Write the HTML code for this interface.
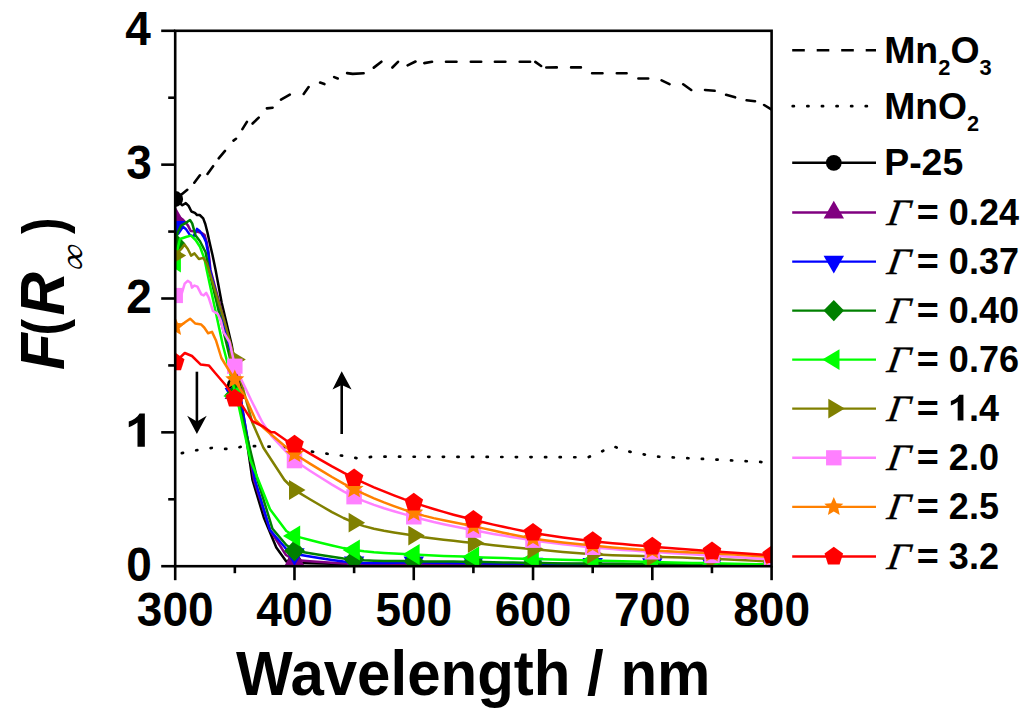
<!DOCTYPE html>
<html><head><meta charset="utf-8"><style>
html,body{margin:0;padding:0;background:#fff;}
svg{display:block;}
.b{font-family:"Liberation Sans",sans-serif;font-weight:bold;fill:#000;}
</style></head><body>
<svg width="1024" height="719" viewBox="0 0 1024 719">
<rect x="0" y="0" width="1024" height="719" fill="#fff"/>
<g>
<defs><clipPath id="pc"><rect x="175.2" y="30.8" width="596.4000000000001" height="535.4000000000001"/></clipPath></defs>
<g clip-path="url(#pc)">
<path d="M176.6,198.5 L187.3,189.8 M194.3,182.7 L199.9,175.3 M207.5,174.0 L213.1,166.2 M218.7,158.3 L225.0,150.9 M233.5,140.6 L236.0,138.8 M242.4,129.1 L246.9,121.9 M252.6,123.5 L258.7,117.6 M266.9,108.4 L272.6,107.7 M281.0,99.6 L289.8,94.6 M303.7,94.0 L308.6,87.1 M320.1,82.6 L324.4,84.1 M334.2,77.1 L337.7,78.5 M347.1,73.1 L352.7,73.9 L363.6,73.2 M373.8,67.6 L381.4,61.7 M392.4,67.5 L398.0,61.8 M407.6,65.3 L415.5,61.5 M424.3,63.1 L432.0,61.8 M446.0,61.7 L456.5,61.7 M470.8,61.7 L481.2,61.7 M494.9,61.7 L505.4,61.7 M519.7,61.7 L530.1,61.7 M535.3,61.9 L541.1,66.0 M546.3,67.5 L556.8,67.4 M571.1,67.4 L580.9,67.4 M592.1,73.2 L602.5,73.2 M616.8,73.2 L626.6,73.2 M638.4,78.5 L648.2,78.5 M661.6,80.4 L669.5,84.2 M683.2,84.3 L691.2,90.0 M705.0,90.0 L714.6,90.8 M726.1,94.8 L735.1,97.3 M746.6,100.3 L755.0,101.3 M764.1,105.0 L771.3,109.4" fill="none" stroke="#000" stroke-width="2.6" stroke-linecap="round" stroke-linejoin="round"/>
<polyline points="175.0,454.6 192.6,450.8 213.0,447.8 230.7,449.3 245.3,445.8 263.0,446.4 277.6,447.0 298.0,449.3 315.7,452.3 339.0,455.2 356.8,458.1 374.4,456.7 403.7,456.7 588.0,457.3 601.0,451.8 613.0,446.2 627.0,451.2 642.6,454.2 657.8,456.7 700.0,458.8 757.6,461.8 772.0,462.7" fill="none" stroke="#000" stroke-width="2.7" stroke-dasharray="1.2 13.4" stroke-dashoffset="-7" stroke-linecap="round"/>
<polyline points="175.0,199.0 182.3,205.2 185.8,203.1 188.6,205.9 191.4,211.5 194.9,212.9 197.0,215.0 199.7,215.0 203.2,218.4 205.3,224.0 207.4,232.3 209.5,242.0 212.5,255.0 215.6,270.0 221.7,302.8 231.7,345.0 240.8,400.0 252.5,480.0 263.8,517.5 276.3,547.6 286.3,561.4 294.5,563.0 301.0,563.1 309.9,563.3 320.6,563.5 332.0,563.7 343.5,563.9 354.1,564.0 364.0,564.1 374.0,564.2 384.0,564.2 393.9,564.2 403.9,564.3 413.8,564.3 423.7,564.3 433.7,564.4 443.6,564.4 453.5,564.5 463.5,564.5 473.4,564.5 483.3,564.5 493.3,564.5 503.2,564.5 513.1,564.5 523.1,564.5 533.0,564.5 542.9,564.5 552.9,564.5 562.9,564.5 572.8,564.5 582.8,564.5 592.7,564.5 602.6,564.5 612.6,564.5 622.5,564.5 632.4,564.5 642.4,564.5 652.3,564.5 662.2,564.5 672.2,564.5 682.1,564.5 692.1,564.5 702.1,564.5 712.0,564.5 722.6,564.5 734.1,564.5 745.5,564.5 756.2,564.5 765.1,564.5 771.6,564.5" fill="none" stroke="#000000" stroke-width="2.5" stroke-linejoin="round"/>
<circle cx="175.2" cy="199" r="7.9" fill="#000000"/>
<circle cx="234.8" cy="385" r="7.9" fill="#000000"/>
<circle cx="294.5" cy="563.0" r="7.9" fill="#000000"/>
<circle cx="354.1" cy="564.0" r="7.9" fill="#000000"/>
<circle cx="413.8" cy="564.3" r="7.9" fill="#000000"/>
<circle cx="473.4" cy="564.5" r="7.9" fill="#000000"/>
<circle cx="533.0" cy="564.5" r="7.9" fill="#000000"/>
<circle cx="592.7" cy="564.5" r="7.9" fill="#000000"/>
<circle cx="652.3" cy="564.5" r="7.9" fill="#000000"/>
<circle cx="712.0" cy="564.5" r="7.9" fill="#000000"/>
<circle cx="771.6" cy="564.5" r="7.9" fill="#000000"/>
<polyline points="175.0,214.0 183.0,219.8 187.9,225.4 190.7,231.0 197.0,231.6 201.8,233.0 204.6,235.1 206.7,242.0 208.5,252.0 210.5,270.0 223.5,318.0 233.0,355.0 241.0,400.0 254.0,480.0 270.0,530.0 286.0,555.0 294.5,560.1 301.0,560.5 309.9,561.2 320.6,561.9 332.0,562.7 343.5,563.4 354.1,563.8 364.0,564.0 374.0,564.1 384.0,564.0 393.9,563.9 403.9,563.8 413.8,563.8 423.7,563.8 433.7,563.9 443.6,564.0 453.5,564.1 463.5,564.1 473.4,564.2 483.3,564.2 493.3,564.3 503.2,564.3 513.1,564.3 523.1,564.4 533.0,564.4 542.9,564.4 552.9,564.4 562.9,564.5 572.8,564.5 582.8,564.5 592.7,564.5 602.6,564.5 612.6,564.5 622.5,564.5 632.4,564.5 642.4,564.5 652.3,564.5 662.2,564.5 672.2,564.5 682.1,564.5 692.1,564.5 702.1,564.5 712.0,564.5 722.6,564.5 734.1,564.5 745.5,564.5 756.2,564.5 765.1,564.5 771.6,564.5" fill="none" stroke="#800080" stroke-width="2.5" stroke-linejoin="round"/>
<polygon points="175.2,206.2 185.4,223.9 165.0,223.9" fill="#800080"/>
<polygon points="234.8,381.2 245.0,398.9 224.6,398.9" fill="#800080"/>
<polygon points="294.5,548.3 304.7,566.0 284.3,566.0" fill="#800080"/>
<polygon points="354.1,552.0 364.3,569.7 343.9,569.7" fill="#800080"/>
<polygon points="413.8,552.0 424.0,569.7 403.6,569.7" fill="#800080"/>
<polygon points="473.4,552.4 483.6,570.1 463.2,570.1" fill="#800080"/>
<polygon points="533.0,552.6 543.2,570.3 522.8,570.3" fill="#800080"/>
<polygon points="592.7,552.7 602.9,570.4 582.5,570.4" fill="#800080"/>
<polygon points="652.3,552.7 662.5,570.4 642.1,570.4" fill="#800080"/>
<polygon points="712.0,552.7 722.2,570.4 701.8,570.4" fill="#800080"/>
<polygon points="771.6,552.7 781.8,570.4 761.4,570.4" fill="#800080"/>
<polyline points="175.0,227.0 178.2,233.7 183.0,226.8 185.8,228.9 190.0,235.1 193.5,236.5 197.0,228.9 199.7,230.9 203.9,237.2 206.0,242.0 208.5,255.0 210.0,270.0 223.0,320.0 233.5,365.0 240.7,400.0 255.0,480.0 270.0,530.0 286.3,549.0 294.5,554.1 301.0,555.1 309.9,556.6 320.6,558.3 332.0,560.0 343.5,561.5 354.1,562.5 364.0,563.0 374.0,563.1 384.0,563.0 393.9,562.8 403.9,562.6 413.8,562.5 423.7,562.6 433.7,562.7 443.6,562.8 453.5,563.0 463.5,563.1 473.4,563.2 483.3,563.3 493.3,563.4 503.2,563.4 513.1,563.5 523.1,563.5 533.0,563.6 542.9,563.7 552.9,563.7 562.9,563.8 572.8,563.9 582.8,563.9 592.7,564.0 602.6,564.0 612.6,564.1 622.5,564.1 632.4,564.1 642.4,564.2 652.3,564.2 662.2,564.2 672.2,564.3 682.1,564.3 692.1,564.3 702.1,564.4 712.0,564.4 722.6,564.4 734.1,564.4 745.5,564.5 756.2,564.5 765.1,564.5 771.6,564.5" fill="none" stroke="#0000ff" stroke-width="2.5" stroke-linejoin="round"/>
<polygon points="175.2,238.8 185.4,221.1 165.0,221.1" fill="#0000ff"/>
<polygon points="234.8,405.8 245.0,388.1 224.6,388.1" fill="#0000ff"/>
<polygon points="294.5,565.9 304.7,548.2 284.3,548.2" fill="#0000ff"/>
<polygon points="354.1,574.3 364.3,556.6 343.9,556.6" fill="#0000ff"/>
<polygon points="413.8,574.3 424.0,556.6 403.6,556.6" fill="#0000ff"/>
<polygon points="473.4,575.0 483.6,557.3 463.2,557.3" fill="#0000ff"/>
<polygon points="533.0,575.4 543.2,557.7 522.8,557.7" fill="#0000ff"/>
<polygon points="592.7,575.8 602.9,558.1 582.5,558.1" fill="#0000ff"/>
<polygon points="652.3,576.0 662.5,558.3 642.1,558.3" fill="#0000ff"/>
<polygon points="712.0,576.2 722.2,558.5 701.8,558.5" fill="#0000ff"/>
<polygon points="771.6,576.3 781.8,558.6 761.4,558.6" fill="#0000ff"/>
<polyline points="175.0,243.4 177.8,232.3 181.1,225.6 186.7,222.3 190.0,220.0 192.2,223.4 195.6,235.6 200.0,241.2 205.6,252.3 208.9,270.0 222.0,325.0 234.0,375.0 240.5,410.0 257.5,480.0 272.5,528.8 286.3,545.0 294.5,550.7 301.0,551.8 309.9,553.3 320.6,555.1 332.0,556.8 343.5,558.4 354.1,559.6 364.0,560.3 374.0,560.7 384.0,560.9 393.9,561.0 403.9,561.1 413.8,561.2 423.7,561.4 433.7,561.5 443.6,561.5 453.5,561.6 463.5,561.7 473.4,561.8 483.3,562.0 493.3,562.2 503.2,562.4 513.1,562.6 523.1,562.8 533.0,563.0 542.9,563.1 552.9,563.3 562.9,563.4 572.8,563.4 582.8,563.5 592.7,563.6 602.6,563.7 612.6,563.8 622.5,563.8 632.4,563.9 642.4,563.9 652.3,564.0 662.2,564.0 672.2,564.1 682.1,564.1 692.1,564.1 702.1,564.2 712.0,564.2 722.6,564.2 734.1,564.3 745.5,564.4 756.2,564.4 765.1,564.5 771.6,564.5" fill="none" stroke="#008000" stroke-width="2.5" stroke-linejoin="round"/>
<polygon points="175.2,232.7 185.4,243.4 175.2,254.1 164.9,243.4" fill="#008000"/>
<polygon points="234.8,384.3 245.1,395.0 234.8,405.7 224.6,395.0" fill="#008000"/>
<polygon points="294.5,540.0 304.8,550.7 294.5,561.4 284.2,550.7" fill="#008000"/>
<polygon points="354.1,548.9 364.4,559.6 354.1,570.3 343.9,559.6" fill="#008000"/>
<polygon points="413.8,550.5 424.1,561.2 413.8,571.9 403.6,561.2" fill="#008000"/>
<polygon points="473.4,551.1 483.6,561.8 473.4,572.5 463.1,561.8" fill="#008000"/>
<polygon points="533.0,552.3 543.2,563.0 533.0,573.7 522.8,563.0" fill="#008000"/>
<polygon points="592.7,552.9 603.0,563.6 592.7,574.3 582.5,563.6" fill="#008000"/>
<polygon points="652.3,553.3 662.5,564.0 652.3,574.7 642.0,564.0" fill="#008000"/>
<polygon points="712.0,553.5 722.2,564.2 712.0,574.9 701.8,564.2" fill="#008000"/>
<polygon points="771.6,553.8 781.9,564.5 771.6,575.2 761.4,564.5" fill="#008000"/>
<polyline points="175.0,262.0 177.8,247.8 180.0,239.0 186.7,236.7 191.1,235.6 195.6,240.0 200.0,246.7 204.5,259.0 206.7,270.0 222.8,345.0 238.8,406.6 250.4,460.0 257.5,478.0 270.0,509.3 286.3,531.0 294.5,536.0 301.0,537.6 309.9,540.0 320.6,542.7 332.0,545.5 343.5,548.1 354.1,550.0 364.0,551.3 374.0,552.3 384.0,553.0 393.9,553.5 403.9,554.0 413.8,554.5 423.7,555.0 433.7,555.5 443.6,555.9 453.5,556.3 463.5,556.6 473.4,557.0 483.3,557.4 493.3,557.7 503.2,558.1 513.1,558.4 523.1,558.7 533.0,559.0 542.9,559.3 552.9,559.5 562.9,559.8 572.8,560.0 582.8,560.3 592.7,560.5 602.6,560.8 612.6,561.0 622.5,561.3 632.4,561.5 642.4,561.8 652.3,562.0 662.2,562.2 672.2,562.5 682.1,562.7 692.1,562.9 702.1,563.1 712.0,563.3 722.6,563.5 734.1,563.8 745.5,564.0 756.2,564.2 765.1,564.4 771.6,564.5" fill="none" stroke="#00ff00" stroke-width="2.5" stroke-linejoin="round"/>
<polygon points="163.7,262.0 180.9,251.7 180.9,272.4" fill="#00ff00"/>
<polygon points="223.3,396.0 240.6,385.6 240.6,406.4" fill="#00ff00"/>
<polygon points="283.0,536.0 300.2,525.6 300.2,546.4" fill="#00ff00"/>
<polygon points="342.6,550.0 359.9,539.6 359.9,560.4" fill="#00ff00"/>
<polygon points="402.3,554.5 419.6,544.1 419.6,564.9" fill="#00ff00"/>
<polygon points="461.9,557.0 479.1,546.6 479.1,567.4" fill="#00ff00"/>
<polygon points="521.5,559.0 538.8,548.6 538.8,569.4" fill="#00ff00"/>
<polygon points="581.2,560.5 598.5,550.1 598.5,570.9" fill="#00ff00"/>
<polygon points="640.8,562.0 658.0,551.6 658.0,572.4" fill="#00ff00"/>
<polygon points="700.5,563.3 717.8,552.9 717.8,573.6" fill="#00ff00"/>
<polygon points="760.1,564.5 777.4,554.1 777.4,574.9" fill="#00ff00"/>
<polyline points="175.0,255.6 182.2,247.8 184.5,244.5 187.8,249.0 191.1,255.6 194.5,253.4 198.9,259.0 203.4,257.9 206.7,263.4 208.9,270.0 224.0,320.0 235.0,359.5 252.2,422.2 263.4,447.8 284.5,480.0 294.5,490.0 301.0,493.8 309.9,499.2 320.6,505.5 332.0,512.1 343.5,518.0 354.1,522.7 364.0,526.1 374.0,528.7 384.0,530.7 393.9,532.4 403.9,534.0 413.8,535.6 423.7,537.2 433.7,538.5 443.6,539.7 453.5,540.8 463.5,541.9 473.4,543.0 483.3,544.1 493.3,545.2 503.2,546.2 513.1,547.3 523.1,548.2 533.0,549.2 542.9,550.1 552.9,551.1 562.9,551.9 572.8,552.8 582.8,553.5 592.7,554.2 602.6,554.7 612.6,555.2 622.5,555.5 632.4,555.8 642.4,556.1 652.3,556.5 662.2,556.9 672.2,557.3 682.1,557.6 692.1,558.0 702.1,558.4 712.0,558.8 722.6,559.3 734.1,559.8 745.5,560.3 756.2,560.8 765.1,561.2 771.6,561.5" fill="none" stroke="#808000" stroke-width="2.5" stroke-linejoin="round"/>
<polygon points="186.2,255.6 169.7,245.7 169.7,265.5" fill="#808000"/>
<polygon points="245.8,359.5 229.3,349.6 229.3,369.4" fill="#808000"/>
<polygon points="305.5,490.0 289.0,480.1 289.0,499.9" fill="#808000"/>
<polygon points="365.1,522.7 348.6,512.8 348.6,532.6" fill="#808000"/>
<polygon points="424.8,535.6 408.3,525.7 408.3,545.5" fill="#808000"/>
<polygon points="484.4,543.0 467.9,533.1 467.9,552.9" fill="#808000"/>
<polygon points="544.0,549.2 527.5,539.3 527.5,559.1" fill="#808000"/>
<polygon points="603.7,554.2 587.2,544.3 587.2,564.1" fill="#808000"/>
<polygon points="663.3,556.5 646.8,546.6 646.8,566.4" fill="#808000"/>
<polygon points="723.0,558.8 706.5,548.9 706.5,568.7" fill="#808000"/>
<polygon points="782.6,561.5 766.1,551.6 766.1,571.4" fill="#808000"/>
<polyline points="175.0,295.5 181.8,293.4 184.7,283.7 187.7,280.8 190.6,282.7 192.0,287.6 194.5,285.6 197.4,286.6 201.3,294.4 203.7,295.4 206.2,292.9 208.6,297.3 213.0,311.0 217.8,313.9 220.8,320.7 223.7,332.4 229.5,342.0 235.0,366.2 251.1,400.0 262.3,422.2 271.2,435.6 285.6,451.2 294.5,460.7 301.0,464.8 309.9,470.7 320.6,477.5 332.0,484.6 343.5,491.3 354.1,496.8 364.0,501.2 374.0,504.9 384.0,508.3 393.9,511.3 403.9,514.1 413.8,516.9 423.7,519.5 433.7,522.0 443.6,524.2 453.5,526.3 463.5,528.2 473.4,530.2 483.3,532.1 493.3,533.9 503.2,535.6 513.1,537.3 523.1,538.8 533.0,540.3 542.9,541.7 552.9,543.0 562.9,544.2 572.8,545.3 582.8,546.4 592.7,547.4 602.6,548.3 612.6,549.1 622.5,549.9 632.4,550.6 642.4,551.2 652.3,551.9 662.2,552.5 672.2,553.2 682.1,553.7 692.1,554.3 702.1,554.9 712.0,555.5 722.6,556.2 734.1,557.0 745.5,557.7 756.2,558.4 765.1,559.1 771.6,559.5" fill="none" stroke="#ff80ff" stroke-width="2.5" stroke-linejoin="round"/>
<rect x="167.45" y="287.9" width="15.5" height="15.2" fill="#ff80ff"/>
<rect x="227.05" y="358.59999999999997" width="15.5" height="15.2" fill="#ff80ff"/>
<rect x="286.75" y="453.09999999999997" width="15.5" height="15.2" fill="#ff80ff"/>
<rect x="346.35" y="489.2" width="15.5" height="15.2" fill="#ff80ff"/>
<rect x="406.05" y="509.29999999999995" width="15.5" height="15.2" fill="#ff80ff"/>
<rect x="465.65" y="522.6" width="15.5" height="15.2" fill="#ff80ff"/>
<rect x="525.25" y="532.6999999999999" width="15.5" height="15.2" fill="#ff80ff"/>
<rect x="584.95" y="539.8" width="15.5" height="15.2" fill="#ff80ff"/>
<rect x="644.55" y="544.3" width="15.5" height="15.2" fill="#ff80ff"/>
<rect x="704.25" y="547.9" width="15.5" height="15.2" fill="#ff80ff"/>
<rect x="763.85" y="551.9" width="15.5" height="15.2" fill="#ff80ff"/>
<polyline points="175.0,326.8 177.0,324.6 180.8,325.1 184.7,322.6 190.1,318.7 195.4,323.6 201.3,324.6 204.2,327.5 208.1,333.3 212.0,331.9 215.9,340.2 221.4,358.0 234.5,379.5 246.7,400.0 255.6,420.0 263.4,427.8 271.2,434.5 285.6,446.7 294.5,454.0 301.0,458.0 309.9,463.6 320.6,470.1 332.0,477.0 343.5,483.6 354.1,489.2 364.0,493.9 374.0,498.3 384.0,502.4 393.9,506.1 403.9,509.6 413.8,512.8 423.7,515.6 433.7,518.1 443.6,520.2 453.5,522.2 463.5,524.2 473.4,526.2 483.3,528.4 493.3,530.5 503.2,532.7 513.1,534.8 523.1,536.7 533.0,538.4 542.9,539.9 552.9,541.2 562.9,542.4 572.8,543.5 582.8,544.5 592.7,545.5 602.6,546.5 612.6,547.4 622.5,548.3 632.4,549.1 642.4,549.8 652.3,550.5 662.2,551.1 672.2,551.6 682.1,552.0 692.1,552.4 702.1,552.8 712.0,553.3 722.6,553.9 734.1,554.6 745.5,555.3 756.2,556.0 765.1,556.6 771.6,557.0" fill="none" stroke="#ff8000" stroke-width="2.5" stroke-linejoin="round"/>
<polygon points="175.2,316.8 177.9,323.1 184.7,323.7 179.6,328.2 181.1,334.9 175.2,331.4 169.3,334.9 170.8,328.2 165.7,323.7 172.5,323.1" fill="#ff8000"/>
<polygon points="234.8,369.5 237.5,375.8 244.3,376.4 239.2,380.9 240.7,387.6 234.8,384.1 228.9,387.6 230.4,380.9 225.3,376.4 232.1,375.8" fill="#ff8000"/>
<polygon points="294.5,444.0 297.2,450.3 304.0,450.9 298.9,455.4 300.4,462.1 294.5,458.6 288.6,462.1 290.1,455.4 285.0,450.9 291.8,450.3" fill="#ff8000"/>
<polygon points="354.1,479.2 356.8,485.5 363.6,486.1 358.5,490.6 360.0,497.3 354.1,493.8 348.2,497.3 349.7,490.6 344.6,486.1 351.4,485.5" fill="#ff8000"/>
<polygon points="413.8,502.8 416.5,509.1 423.3,509.7 418.2,514.2 419.7,520.9 413.8,517.4 407.9,520.9 409.4,514.2 404.3,509.7 411.1,509.1" fill="#ff8000"/>
<polygon points="473.4,516.2 476.1,522.5 482.9,523.1 477.8,527.6 479.3,534.3 473.4,530.8 467.5,534.3 469.0,527.6 463.9,523.1 470.7,522.5" fill="#ff8000"/>
<polygon points="533.0,528.4 535.7,534.7 542.5,535.3 537.4,539.8 538.9,546.5 533.0,543.0 527.1,546.5 528.6,539.8 523.5,535.3 530.3,534.7" fill="#ff8000"/>
<polygon points="592.7,535.5 595.4,541.8 602.2,542.4 597.1,546.9 598.6,553.6 592.7,550.1 586.8,553.6 588.3,546.9 583.2,542.4 590.0,541.8" fill="#ff8000"/>
<polygon points="652.3,540.5 655.0,546.8 661.8,547.4 656.7,551.9 658.2,558.6 652.3,555.1 646.4,558.6 647.9,551.9 642.8,547.4 649.6,546.8" fill="#ff8000"/>
<polygon points="712.0,543.3 714.7,549.6 721.5,550.2 716.4,554.7 717.9,561.4 712.0,557.9 706.1,561.4 707.6,554.7 702.5,550.2 709.3,549.6" fill="#ff8000"/>
<polygon points="771.6,547.0 774.3,553.3 781.1,553.9 776.0,558.4 777.5,565.1 771.6,561.6 765.7,565.1 767.2,558.4 762.1,553.9 768.9,553.3" fill="#ff8000"/>
<polyline points="175.0,362.3 184.8,353.0 192.0,356.0 200.5,364.4 208.8,365.4 215.0,372.7 225.5,385.0 235.0,398.5 242.2,405.6 252.2,421.1 263.4,426.7 271.2,432.3 274.5,432.3 285.6,440.0 294.5,444.5 301.0,448.3 309.9,453.6 320.6,459.8 332.0,466.4 343.5,472.7 354.1,478.2 364.0,482.9 374.0,487.3 384.0,491.4 393.9,495.3 403.9,499.1 413.8,502.6 423.7,505.9 433.7,509.0 443.6,511.9 453.5,514.7 463.5,517.3 473.4,519.8 483.3,522.3 493.3,524.6 503.2,526.8 513.1,528.9 523.1,530.9 533.0,532.7 542.9,534.4 552.9,535.9 562.9,537.4 572.8,538.7 582.8,539.9 592.7,541.1 602.6,542.2 612.6,543.2 622.5,544.1 632.4,544.9 642.4,545.8 652.3,546.6 662.2,547.4 672.2,548.3 682.1,549.0 692.1,549.8 702.1,550.6 712.0,551.3 722.6,552.0 734.1,552.8 745.5,553.5 756.2,554.2 765.1,554.8 771.6,555.2" fill="none" stroke="#ff0000" stroke-width="2.5" stroke-linejoin="round"/>
<polygon points="175.2,352.5 184.5,359.3 181.0,370.2 169.4,370.2 165.9,359.3" fill="#ff0000"/>
<polygon points="234.8,388.7 244.1,395.5 240.6,406.4 229.0,406.4 225.5,395.5" fill="#ff0000"/>
<polygon points="294.5,434.7 303.8,441.5 300.3,452.4 288.7,452.4 285.2,441.5" fill="#ff0000"/>
<polygon points="354.1,468.4 363.4,475.2 359.9,486.1 348.3,486.1 344.8,475.2" fill="#ff0000"/>
<polygon points="413.8,492.8 423.1,499.6 419.6,510.5 408.0,510.5 404.5,499.6" fill="#ff0000"/>
<polygon points="473.4,510.0 482.7,516.8 479.2,527.7 467.6,527.7 464.1,516.8" fill="#ff0000"/>
<polygon points="533.0,522.9 542.3,529.7 538.8,540.6 527.2,540.6 523.7,529.7" fill="#ff0000"/>
<polygon points="592.7,531.3 602.0,538.1 598.5,549.0 586.9,549.0 583.4,538.1" fill="#ff0000"/>
<polygon points="652.3,536.8 661.6,543.6 658.1,554.5 646.5,554.5 643.0,543.6" fill="#ff0000"/>
<polygon points="712.0,541.5 721.3,548.3 717.8,559.2 706.2,559.2 702.7,548.3" fill="#ff0000"/>
<polygon points="771.6,545.4 780.9,552.2 777.4,563.1 765.8,563.1 762.3,552.2" fill="#ff0000"/>
</g>
<line x1="196.9" y1="371.7" x2="196.9" y2="425" stroke="#000" stroke-width="2.6"/>
<polygon points="196.9,434 187.2,415.7 196.9,421.5 206.7,415.7" fill="#000"/>
<line x1="341.7" y1="434" x2="341.7" y2="380" stroke="#000" stroke-width="2.6"/>
<polygon points="341.7,371.3 351.6,389.5 341.7,385 332.5,389.5" fill="#000"/>
<rect x="175.2" y="30.8" width="596.4000000000001" height="535.4000000000001" stroke="#000" stroke-width="2.6" fill="none"/>
<line x1="161.2" y1="566.2" x2="175.2" y2="566.2" stroke="#000" stroke-width="2.6" fill="none"/>
<line x1="168.2" y1="499.27500000000003" x2="175.2" y2="499.27500000000003" stroke="#000" stroke-width="2.6" fill="none"/>
<line x1="161.2" y1="432.35" x2="175.2" y2="432.35" stroke="#000" stroke-width="2.6" fill="none"/>
<line x1="168.2" y1="365.425" x2="175.2" y2="365.425" stroke="#000" stroke-width="2.6" fill="none"/>
<line x1="161.2" y1="298.5" x2="175.2" y2="298.5" stroke="#000" stroke-width="2.6" fill="none"/>
<line x1="168.2" y1="231.575" x2="175.2" y2="231.575" stroke="#000" stroke-width="2.6" fill="none"/>
<line x1="161.2" y1="164.64999999999998" x2="175.2" y2="164.64999999999998" stroke="#000" stroke-width="2.6" fill="none"/>
<line x1="168.2" y1="97.72499999999997" x2="175.2" y2="97.72499999999997" stroke="#000" stroke-width="2.6" fill="none"/>
<line x1="161.2" y1="30.799999999999955" x2="175.2" y2="30.799999999999955" stroke="#000" stroke-width="2.6" fill="none"/>
<line x1="175.2" y1="566.2" x2="175.2" y2="580.2" stroke="#000" stroke-width="2.6" fill="none"/>
<line x1="234.84" y1="566.2" x2="234.84" y2="573.2" stroke="#000" stroke-width="2.6" fill="none"/>
<line x1="294.48" y1="566.2" x2="294.48" y2="580.2" stroke="#000" stroke-width="2.6" fill="none"/>
<line x1="354.12" y1="566.2" x2="354.12" y2="573.2" stroke="#000" stroke-width="2.6" fill="none"/>
<line x1="413.76" y1="566.2" x2="413.76" y2="580.2" stroke="#000" stroke-width="2.6" fill="none"/>
<line x1="473.40000000000003" y1="566.2" x2="473.40000000000003" y2="573.2" stroke="#000" stroke-width="2.6" fill="none"/>
<line x1="533.04" y1="566.2" x2="533.04" y2="580.2" stroke="#000" stroke-width="2.6" fill="none"/>
<line x1="592.6800000000001" y1="566.2" x2="592.6800000000001" y2="573.2" stroke="#000" stroke-width="2.6" fill="none"/>
<line x1="652.32" y1="566.2" x2="652.32" y2="580.2" stroke="#000" stroke-width="2.6" fill="none"/>
<line x1="711.96" y1="566.2" x2="711.96" y2="573.2" stroke="#000" stroke-width="2.6" fill="none"/>
<line x1="771.6000000000001" y1="566.2" x2="771.6000000000001" y2="580.2" stroke="#000" stroke-width="2.6" fill="none"/>
<line x1="792.2" y1="50.2" x2="876" y2="50.2" stroke="#000" stroke-width="2.6" stroke-dasharray="12.6 11.9"/>
<line x1="792.2" y1="106.2" x2="876" y2="106.2" stroke="#000" stroke-width="2.7" stroke-dasharray="1.2 13.4" stroke-dashoffset="-0.5" stroke-linecap="round"/>
<line x1="792.2" y1="162.8" x2="876" y2="162.8" stroke="#000000" stroke-width="2.4"/>
<circle cx="833.8" cy="162.8" r="7.9" fill="#000000"/>
<line x1="792.2" y1="212.5" x2="876" y2="212.5" stroke="#800080" stroke-width="2.4"/>
<polygon points="833.8,200.7 844.0,218.4 823.6,218.4" fill="#800080"/>
<line x1="792.2" y1="261.6" x2="876" y2="261.6" stroke="#0000ff" stroke-width="2.4"/>
<polygon points="833.8,273.4 844.0,255.7 823.6,255.7" fill="#0000ff"/>
<line x1="792.2" y1="310.6" x2="876" y2="310.6" stroke="#008000" stroke-width="2.4"/>
<polygon points="833.8,299.9 844.0,310.6 833.8,321.3 823.5,310.6" fill="#008000"/>
<line x1="792.2" y1="359.6" x2="876" y2="359.6" stroke="#00ff00" stroke-width="2.4"/>
<polygon points="822.3,359.6 839.5,349.2 839.5,370.0" fill="#00ff00"/>
<line x1="792.2" y1="408.6" x2="876" y2="408.6" stroke="#808000" stroke-width="2.4"/>
<polygon points="844.8,408.6 828.3,398.7 828.3,418.5" fill="#808000"/>
<line x1="792.2" y1="457.8" x2="876" y2="457.8" stroke="#ff80ff" stroke-width="2.4"/>
<rect x="826.05" y="450.2" width="15.5" height="15.2" fill="#ff80ff"/>
<line x1="792.2" y1="506.9" x2="876" y2="506.9" stroke="#ff8000" stroke-width="2.4"/>
<polygon points="833.8,496.9 836.5,503.2 843.3,503.8 838.2,508.3 839.7,515.0 833.8,511.5 827.9,515.0 829.4,508.3 824.3,503.8 831.1,503.2" fill="#ff8000"/>
<line x1="792.2" y1="556.5" x2="876" y2="556.5" stroke="#ff0000" stroke-width="2.4"/>
<polygon points="833.8,546.7 843.1,553.5 839.6,564.4 828.0,564.4 824.5,553.5" fill="#ff0000"/>
<g transform="translate(151.8,580.7) scale(1.0,1.05)"><text x="0" y="0" text-anchor="end" class="b" font-size="46" >0</text></g>
<path transform="translate(126.22,446.85) scale(46,-48.300000000000004)" d="M0.405,0 L0.405,0.688 L0.29,0.688 C0.24,0.60 0.15,0.55 0.055,0.525 L0.055,0.405 C0.13,0.43 0.20,0.47 0.245,0.505 L0.245,0 Z" fill="#000"/>
<g transform="translate(151.8,313.0) scale(1.0,1.05)"><text x="0" y="0" text-anchor="end" class="b" font-size="46" >2</text></g>
<g transform="translate(151.8,179.14999999999998) scale(1.0,1.05)"><text x="0" y="0" text-anchor="end" class="b" font-size="46" >3</text></g>
<g transform="translate(150.8,44.799999999999955) scale(1.0,1.05)"><text x="0" y="0" text-anchor="end" class="b" font-size="46" >4</text></g>
<g transform="translate(175.2,625.7) scale(1.0,1.04)"><text x="0" y="0" text-anchor="middle" class="b" font-size="46" >300</text></g>
<g transform="translate(294.48,625.7) scale(1.0,1.04)"><text x="0" y="0" text-anchor="middle" class="b" font-size="46" >400</text></g>
<g transform="translate(413.76,625.7) scale(1.0,1.04)"><text x="0" y="0" text-anchor="middle" class="b" font-size="46" >500</text></g>
<g transform="translate(533.04,625.7) scale(1.0,1.04)"><text x="0" y="0" text-anchor="middle" class="b" font-size="46" >600</text></g>
<g transform="translate(652.32,625.7) scale(1.0,1.04)"><text x="0" y="0" text-anchor="middle" class="b" font-size="46" >700</text></g>
<g transform="translate(771.6000000000001,625.7) scale(1.0,1.04)"><text x="0" y="0" text-anchor="middle" class="b" font-size="46" >800</text></g>
<g transform="translate(236,694.8) scale(1.0,1.06)"><text x="0" y="0" text-anchor="start" class="b" font-size="60" >Wavelength / nm</text></g>
<g transform="translate(64,369) rotate(-90) scale(1,1.04)"><text x="-1.1" y="0" class="b" font-style="italic" font-size="60">F</text><g transform="translate(33.5,-0.5) scale(0.83,0.93)"><text x="0" y="0" class="b" font-size="60">(</text></g><text x="53.4" y="0" class="b" font-style="italic" font-size="60">R</text><g transform="translate(95.8,21.2) skewX(-22) scale(0.9,0.96)"><text x="0" y="0" font-family="Liberation Serif" font-style="italic" font-size="38" fill="#000">&#8734;</text></g><g transform="translate(135,-0.5) scale(0.83,0.93)"><text x="0" y="0" class="b" font-size="60">)</text></g></g>
<g transform="translate(884.188,62.7) scale(1.04,1.04)"><text x="0" y="0" text-anchor="start" class="b" font-size="36" >Mn<tspan font-size="21" dy="11.5">2</tspan><tspan dy="-11.5">O</tspan><tspan font-size="21" dy="11.5">3</tspan></text></g>
<g transform="translate(884.188,119) scale(1.035,1.04)"><text x="0" y="0" text-anchor="start" class="b" font-size="36" >MnO<tspan font-size="21" dy="11.5">2</tspan></text></g>
<g transform="translate(884.188,175.2) scale(1.04,1.04)"><text x="0" y="0" text-anchor="start" class="b" font-size="36" >P-25</text></g>
<g transform="translate(886,224.5) skewX(-9) scale(1.05,1)"><text x="0" y="0" font-size="37" font-family="Liberation Serif" font-style="italic" fill="#000" stroke="#000" stroke-width="0.35">&#915;</text></g>
<g transform="translate(916.7124,224.5) scale(1.05,1.04)"><text x="0" y="0" text-anchor="start" class="b" font-size="36" >=</text></g>
<g transform="translate(948.8599999999999,224.5) scale(1.0,1.04)"><text x="0" y="0" text-anchor="start" class="b" font-size="36" >0.24</text></g>
<g transform="translate(886,273.6) skewX(-9) scale(1.05,1)"><text x="0" y="0" font-size="37" font-family="Liberation Serif" font-style="italic" fill="#000" stroke="#000" stroke-width="0.35">&#915;</text></g>
<g transform="translate(916.7124,273.6) scale(1.05,1.04)"><text x="0" y="0" text-anchor="start" class="b" font-size="36" >=</text></g>
<g transform="translate(948.8599999999999,273.6) scale(1.0,1.04)"><text x="0" y="0" text-anchor="start" class="b" font-size="36" >0.37</text></g>
<g transform="translate(886,322.6) skewX(-9) scale(1.05,1)"><text x="0" y="0" font-size="37" font-family="Liberation Serif" font-style="italic" fill="#000" stroke="#000" stroke-width="0.35">&#915;</text></g>
<g transform="translate(916.7124,322.6) scale(1.05,1.04)"><text x="0" y="0" text-anchor="start" class="b" font-size="36" >=</text></g>
<g transform="translate(948.8599999999999,322.6) scale(1.0,1.04)"><text x="0" y="0" text-anchor="start" class="b" font-size="36" >0.40</text></g>
<g transform="translate(886,371.6) skewX(-9) scale(1.05,1)"><text x="0" y="0" font-size="37" font-family="Liberation Serif" font-style="italic" fill="#000" stroke="#000" stroke-width="0.35">&#915;</text></g>
<g transform="translate(916.7124,371.6) scale(1.05,1.04)"><text x="0" y="0" text-anchor="start" class="b" font-size="36" >=</text></g>
<g transform="translate(948.8599999999999,371.6) scale(1.0,1.04)"><text x="0" y="0" text-anchor="start" class="b" font-size="36" >0.76</text></g>
<g transform="translate(886,420.6) skewX(-9) scale(1.05,1)"><text x="0" y="0" font-size="37" font-family="Liberation Serif" font-style="italic" fill="#000" stroke="#000" stroke-width="0.35">&#915;</text></g>
<g transform="translate(916.7124,420.6) scale(1.05,1.04)"><text x="0" y="0" text-anchor="start" class="b" font-size="36" >=</text></g>
<path transform="translate(948.86,420.60) scale(36,-37.44)" d="M0.405,0 L0.405,0.688 L0.29,0.688 C0.24,0.60 0.15,0.55 0.055,0.525 L0.055,0.405 C0.13,0.43 0.20,0.47 0.245,0.505 L0.245,0 Z" fill="#000"/>
<g transform="translate(968.8759999999999,420.6) scale(1.0,1.04)"><text x="0" y="0" text-anchor="start" class="b" font-size="36" >.4</text></g>
<g transform="translate(886,469.8) skewX(-9) scale(1.05,1)"><text x="0" y="0" font-size="37" font-family="Liberation Serif" font-style="italic" fill="#000" stroke="#000" stroke-width="0.35">&#915;</text></g>
<g transform="translate(916.7124,469.8) scale(1.05,1.04)"><text x="0" y="0" text-anchor="start" class="b" font-size="36" >=</text></g>
<g transform="translate(948.8599999999999,469.8) scale(1.0,1.04)"><text x="0" y="0" text-anchor="start" class="b" font-size="36" >2.0</text></g>
<g transform="translate(886,518.9) skewX(-9) scale(1.05,1)"><text x="0" y="0" font-size="37" font-family="Liberation Serif" font-style="italic" fill="#000" stroke="#000" stroke-width="0.35">&#915;</text></g>
<g transform="translate(916.7124,518.9) scale(1.05,1.04)"><text x="0" y="0" text-anchor="start" class="b" font-size="36" >=</text></g>
<g transform="translate(948.8599999999999,518.9) scale(1.0,1.04)"><text x="0" y="0" text-anchor="start" class="b" font-size="36" >2.5</text></g>
<g transform="translate(886,568.5) skewX(-9) scale(1.05,1)"><text x="0" y="0" font-size="37" font-family="Liberation Serif" font-style="italic" fill="#000" stroke="#000" stroke-width="0.35">&#915;</text></g>
<g transform="translate(916.7124,568.5) scale(1.05,1.04)"><text x="0" y="0" text-anchor="start" class="b" font-size="36" >=</text></g>
<g transform="translate(948.8599999999999,568.5) scale(1.0,1.04)"><text x="0" y="0" text-anchor="start" class="b" font-size="36" >3.2</text></g>
</g>
</svg>
</body></html>
